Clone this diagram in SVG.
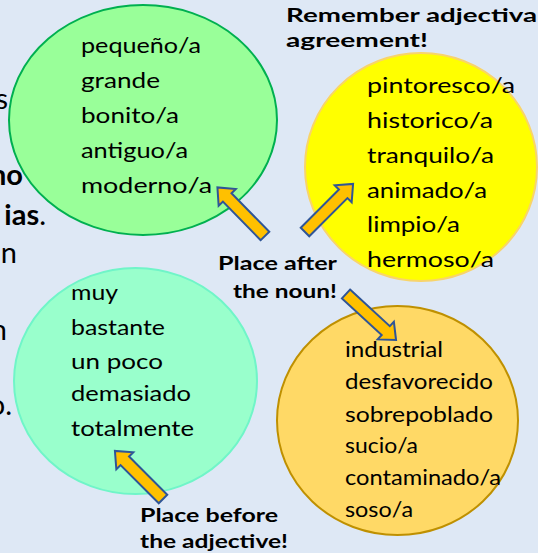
<svg xmlns="http://www.w3.org/2000/svg" width="538" height="553" viewBox="0 0 538 553">
<style>
text{font-family:Lato,"Liberation Sans",sans-serif;font-size:22px;fill:#000}
.b{font-weight:700;font-size:19.5px}
.frag{font-size:29px}
.lb{font-weight:700}
.arrow{fill:#ffc000;stroke:#2f5597;stroke-width:2;stroke-linejoin:miter}
</style>
<defs>
<path id="arr" d="M0,-6 L54,-6 L54,-12 L68,0 L54,12 L54,6 L0,6 Z"/>
</defs>
<rect width="538" height="553" fill="#dee8f5"/>
<g id="left-fragments">
<text class="frag" x="8" y="109" text-anchor="end">s</text>
<text class="frag lb" x="23" y="185" text-anchor="end">no</text>
<text class="frag" x="46" y="225" text-anchor="end"><tspan class="lb">ias</tspan>.</text>
<text class="frag" x="17" y="263" text-anchor="end">un</text>
<text class="frag" x="7" y="340" text-anchor="end">n</text>
<text class="frag" x="12" y="415" text-anchor="end">o.</text>
</g>
<g id="node-green">
<ellipse cx="143" cy="120" rx="134" ry="115" fill="#99ff99" stroke="#00b050" stroke-width="2"/>
<text x="81" y="53" textLength="120" lengthAdjust="spacingAndGlyphs">pequeño/a</text>
<text x="81" y="88" textLength="79" lengthAdjust="spacingAndGlyphs">grande</text>
<text x="81" y="123" textLength="98" lengthAdjust="spacingAndGlyphs">bonito/a</text>
<text x="81" y="158" textLength="107" lengthAdjust="spacingAndGlyphs">antiguo/a</text>
<text x="81" y="193" textLength="131" lengthAdjust="spacingAndGlyphs">moderno/a</text>
</g>
<g id="node-yellow">
<ellipse cx="421" cy="167" rx="116" ry="114" fill="#ffff00" stroke="#f8d46a" stroke-width="2"/>
<text x="367" y="93" textLength="148" lengthAdjust="spacingAndGlyphs">pintoresco/a</text>
<text x="367" y="128" textLength="126" lengthAdjust="spacingAndGlyphs">historico/a</text>
<text x="367" y="163" textLength="127" lengthAdjust="spacingAndGlyphs">tranquilo/a</text>
<text x="367" y="198" textLength="120" lengthAdjust="spacingAndGlyphs">animado/a</text>
<text x="367" y="232" textLength="93" lengthAdjust="spacingAndGlyphs">limpio/a</text>
<text x="367" y="267" textLength="127" lengthAdjust="spacingAndGlyphs">hermoso/a</text>
</g>
<g id="node-aqua">
<ellipse cx="135.5" cy="381" rx="121.5" ry="113" fill="#99ffcc" stroke="#70f5c8" stroke-width="2"/>
<text x="71" y="300" textLength="47" lengthAdjust="spacingAndGlyphs">muy</text>
<text x="71" y="335" textLength="94" lengthAdjust="spacingAndGlyphs">bastante</text>
<text x="71" y="369" textLength="92" lengthAdjust="spacingAndGlyphs">un poco</text>
<text x="71" y="401" textLength="120" lengthAdjust="spacingAndGlyphs">demasiado</text>
<text x="71" y="436" textLength="123" lengthAdjust="spacingAndGlyphs">totalmente</text>
</g>
<g id="node-orange">
<ellipse cx="397.5" cy="420.5" rx="120.5" ry="114.5" fill="#ffd966" stroke="#bf9000" stroke-width="2"/>
<text x="345" y="357" textLength="98" lengthAdjust="spacingAndGlyphs">industrial</text>
<text x="345" y="389" textLength="148" lengthAdjust="spacingAndGlyphs">desfavorecido</text>
<text x="345" y="422" textLength="148" lengthAdjust="spacingAndGlyphs">sobrepoblado</text>
<text x="345" y="453" textLength="73" lengthAdjust="spacingAndGlyphs">sucio/a</text>
<text x="345" y="485" textLength="156" lengthAdjust="spacingAndGlyphs">contaminado/a</text>
<text x="345" y="517" textLength="68" lengthAdjust="spacingAndGlyphs">soso/a</text>
</g>
<g id="labels">
<text class="b" x="286" y="22" textLength="258" lengthAdjust="spacingAndGlyphs">Remember adjectival</text>
<text class="b" x="286" y="47" textLength="142" lengthAdjust="spacingAndGlyphs">agreement!</text>
<text class="b" x="218" y="270" textLength="119" lengthAdjust="spacingAndGlyphs">Place after</text>
<text class="b" x="233" y="298" textLength="104" lengthAdjust="spacingAndGlyphs">the noun!</text>
<text class="b" x="140" y="522" textLength="138" lengthAdjust="spacingAndGlyphs">Place before</text>
<text class="b" x="140" y="548" textLength="148" lengthAdjust="spacingAndGlyphs">the adjective!</text>
</g>
<g id="connectors">
<use href="#arr" class="arrow" transform="translate(265,236) rotate(-134.4)"/>
<use href="#arr" class="arrow" transform="translate(305,232) rotate(-45)"/>
<use href="#arr" class="arrow" transform="translate(346,294) rotate(42.6)"/>
<use href="#arr" class="arrow" transform="translate(163,499) rotate(-135)"/>
</g>
</svg>
